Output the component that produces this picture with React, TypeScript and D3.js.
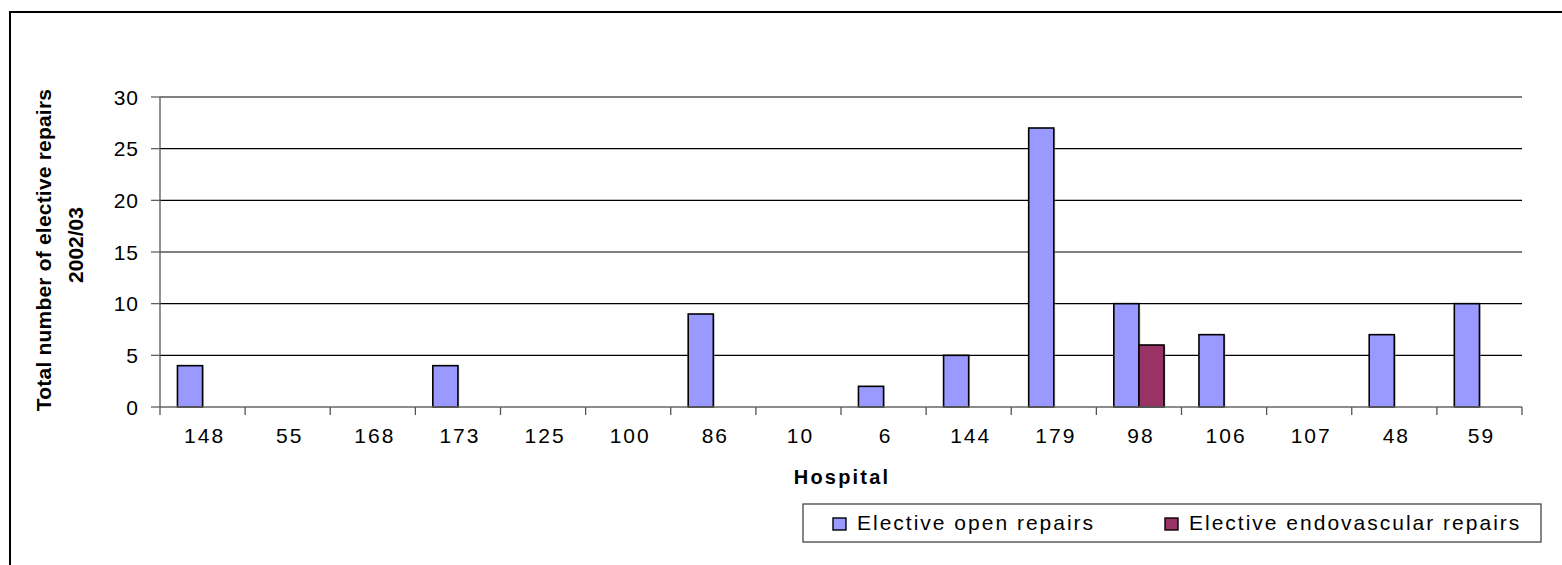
import React from "react";
import * as d3 from "d3";

const hospitals = ["148", "55", "168", "173", "125", "100", "86", "10", "6", "144", "179", "98", "106", "107", "48", "59"];
const openRepairs = [4, 0, 0, 4, 0, 0, 9, 0, 2, 5, 27, 10, 7, 0, 7, 10];
const endovascularRepairs = [0, 0, 0, 0, 0, 0, 0, 0, 0, 0, 0, 6, 0, 0, 0, 0];
const seriesNames = ["Elective open repairs", "Elective endovascular repairs"];
const seriesColors = ["#9999FF", "#993366"];
const yTicks = [0, 5, 10, 15, 20, 25, 30];

const W = 1562;
const H = 565;
const FONT = "'Liberation Sans', Arial, Helvetica, sans-serif";

export default function App() {
  const left = 160;
  const right = 1522;
  const top = 97;
  const bottom = 407;

  const x0 = d3.scaleBand<string>().domain(hospitals).range([left, right]).padding(0);
  const bw = x0.bandwidth();
  const groupW = bw * 0.59;
  const x1 = d3
    .scaleBand<string>()
    .domain(seriesNames)
    .range([(bw - groupW) / 2, (bw + groupW) / 2])
    .padding(0);
  const y = d3.scaleLinear().domain([0, 30]).range([bottom, top]);

  const seriesValues = [openRepairs, endovascularRepairs];

  const bars: { key: string; x: number; y: number; w: number; h: number; fill: string }[] = [];
  hospitals.forEach((h, i) => {
    seriesNames.forEach((s, si) => {
      const v = seriesValues[si][i];
      if (v > 0) {
        bars.push({
          key: `${h}-${si}`,
          x: (x0(h) ?? 0) + (x1(s) ?? 0),
          y: y(v),
          w: x1.bandwidth(),
          h: y(0) - y(v),
          fill: seriesColors[si],
        });
      }
    });
  });

  const boundaries = hospitals.map((h) => x0(h) ?? 0).concat([right]);

  // legend layout
  const legX = 803;
  const legY = 504;
  const legW = 738;
  const legH = 38;
  const legendEntries = [
    { name: seriesNames[0], color: seriesColors[0], mx: 833 },
    { name: seriesNames[1], color: seriesColors[1], mx: 1165 },
  ];

  return (
    <svg
      width={W}
      height={H}
      style={{ position: "absolute", left: 0, top: 0, background: "#fff" }}
      fontFamily={FONT}
    >
      {/* outer frame */}
      <rect x={10} y={12} width={W} height={H} fill="#fff" stroke="#000" strokeWidth={2} />

      {/* gridlines + y ticks */}
      {yTicks.map((t) => (
        <g key={t}>
          {t > 0 && (
            <line x1={left} x2={right} y1={y(t)} y2={y(t)} stroke="#000" strokeWidth={1.2} />
          )}
          <line x1={left - 9} x2={left} y1={y(t)} y2={y(t)} stroke="#555" strokeWidth={1.2} />
          <text
            x={139}
            y={y(t)}
            dy="0.36em"
            textAnchor="end"
            fontSize={21}
            letterSpacing={1}
            fill="#000"
          >
            {t}
          </text>
        </g>
      ))}

      {/* bars */}
      {bars.map((b) => (
        <g key={b.key}>
          <rect x={b.x + 1.5} y={b.y + 1} width={b.w} height={b.h} fill="#aaa" opacity={0.5} />
          <rect x={b.x} y={b.y} width={b.w} height={b.h} fill={b.fill} stroke="#000" strokeWidth={1.6} />
        </g>
      ))}

      {/* axes */}
      <line x1={left} x2={left} y1={top} y2={bottom} stroke="#555" strokeWidth={1.3} />
      <line x1={left} x2={right} y1={bottom} y2={bottom} stroke="#666" strokeWidth={1.6} />
      {boundaries.map((bx, i) => (
        <line key={i} x1={bx} x2={bx} y1={bottom} y2={bottom + 8} stroke="#555" strokeWidth={1.3} />
      ))}
      {hospitals.map((h) => (
        <text
          key={h}
          x={(x0(h) ?? 0) + bw / 2 + 2}
          y={443}
          textAnchor="middle"
          fontSize={21}
          letterSpacing={2}
          fill="#000"
        >
          {h}
        </text>
      ))}

      {/* axis titles */}
      <text
        x={(left + right) / 2 + 1}
        y={484}
        textAnchor="middle"
        fontSize={20}
        fontWeight="bold"
        letterSpacing={2.2}
        fill="#000"
      >
        Hospital
      </text>
      <text
        transform={`translate(51, 250) rotate(-90)`}
        textAnchor="middle"
        fontSize={21}
        fontWeight="bold"
        letterSpacing={0.2}
        fill="#000"
      >
        Total number of elective repairs
      </text>
      <text
        transform={`translate(83, 245) rotate(-90)`}
        textAnchor="middle"
        fontSize={21}
        fontWeight="bold"
        fill="#000"
      >
        2002/03
      </text>

      {/* legend */}
      <rect x={legX} y={legY} width={legW} height={legH} fill="#fff" stroke="#444" strokeWidth={1.3} />
      {legendEntries.map((e) => (
        <g key={e.name}>
          <rect x={e.mx} y={518} width={13} height={12} fill={e.color} stroke="#000" strokeWidth={1.4} />
          <text x={e.mx + 24} y={529.5} fontSize={21} letterSpacing={2} fill="#000">
            {e.name}
          </text>
        </g>
      ))}
    </svg>
  );
}
